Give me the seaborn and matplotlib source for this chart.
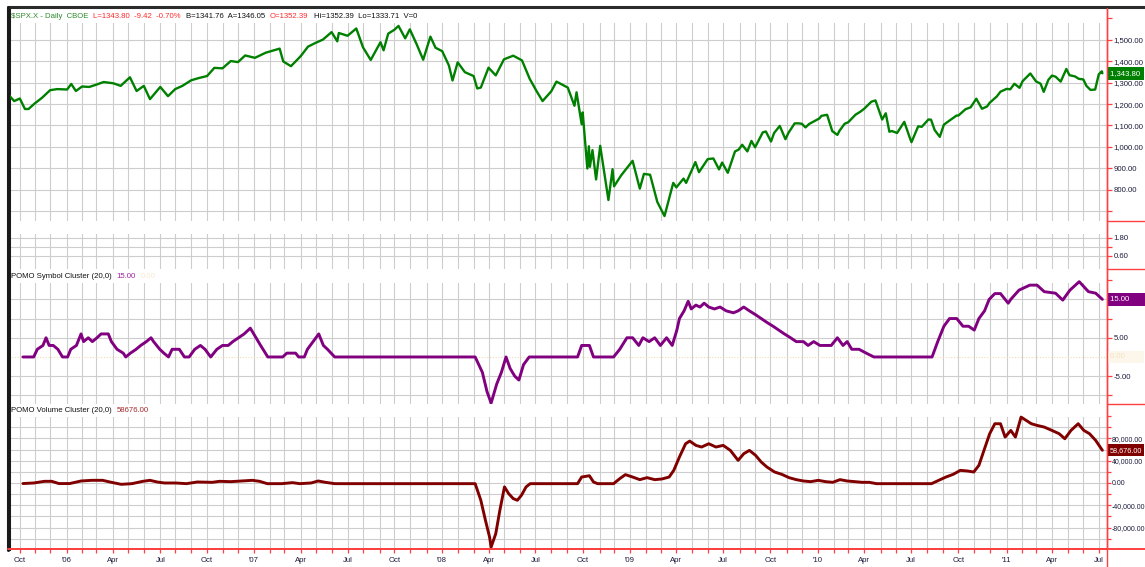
import matplotlib
matplotlib.use("Agg")
import matplotlib.pyplot as plt
import seaborn as sns
import pandas as pd
import numpy as np
from matplotlib.transforms import blended_transform_factory
from matplotlib.lines import Line2D
from matplotlib.patches import Rectangle

# ---------------- data ----------------
price_dates = [
    "2005-09-12", "2005-09-22", "2005-10-03", "2005-10-13", "2005-10-20", "2005-11-01", "2005-11-15",
    "2005-12-01", "2005-12-15", "2006-01-03", "2006-01-11", "2006-01-20", "2006-02-01", "2006-02-15",
    "2006-03-01", "2006-03-15", "2006-04-03", "2006-04-17", "2006-05-05", "2006-05-18", "2006-06-01",
    "2006-06-13", "2006-07-03", "2006-07-18", "2006-08-01", "2006-08-15", "2006-09-01", "2006-09-15",
    "2006-10-02", "2006-10-16", "2006-11-01", "2006-11-17", "2006-12-01", "2006-12-15", "2007-01-03",
    "2007-01-24", "2007-02-20", "2007-02-27", "2007-03-14", "2007-04-02", "2007-04-16", "2007-05-01",
    "2007-05-15", "2007-06-01", "2007-06-12", "2007-06-15", "2007-07-02", "2007-07-19", "2007-08-01",
    "2007-08-16", "2007-09-04", "2007-09-10", "2007-09-19", "2007-10-01", "2007-10-09", "2007-10-22",
    "2007-10-31", "2007-11-13", "2007-11-26", "2007-12-10", "2007-12-20", "2008-01-02", "2008-01-15",
    "2008-01-22", "2008-02-01", "2008-02-15", "2008-03-03", "2008-03-10", "2008-03-17", "2008-04-01",
    "2008-04-15", "2008-05-01", "2008-05-19", "2008-06-05", "2008-06-20", "2008-07-03", "2008-07-15",
    "2008-08-01", "2008-08-11", "2008-09-02", "2008-09-15", "2008-09-19", "2008-09-29", "2008-10-01",
    "2008-10-10", "2008-10-13", "2008-10-15", "2008-10-20", "2008-10-27", "2008-11-04", "2008-11-20",
    "2008-11-28", "2008-12-01", "2008-12-15", "2009-01-06", "2009-01-20", "2009-01-28", "2009-02-09",
    "2009-02-23", "2009-03-09", "2009-03-26", "2009-04-01", "2009-04-15", "2009-04-20", "2009-05-04",
    "2009-05-08", "2009-05-15", "2009-06-01", "2009-06-12", "2009-06-23", "2009-06-29", "2009-07-10",
    "2009-07-24", "2009-07-31", "2009-08-07", "2009-08-17", "2009-08-25", "2009-09-01", "2009-09-16",
    "2009-09-22", "2009-10-02", "2009-10-08", "2009-10-19", "2009-10-30", "2009-11-05", "2009-11-17",
    "2009-11-25", "2009-12-01", "2009-12-08", "2009-12-15", "2010-01-04", "2010-01-08", "2010-01-19",
    "2010-01-29", "2010-02-08", "2010-02-12", "2010-02-22", "2010-03-01", "2010-03-15", "2010-03-25",
    "2010-04-01", "2010-04-15", "2010-04-23", "2010-05-06", "2010-05-13", "2010-05-20", "2010-05-25",
    "2010-06-04", "2010-06-11", "2010-06-18", "2010-06-29", "2010-07-02", "2010-07-15", "2010-07-22",
    "2010-08-04", "2010-08-09", "2010-08-16", "2010-08-26", "2010-09-03", "2010-09-15", "2010-09-28",
    "2010-10-01", "2010-10-15", "2010-10-25", "2010-11-05", "2010-11-16", "2010-11-26", "2010-12-01",
    "2010-12-15", "2010-12-22", "2011-01-03", "2011-01-10", "2011-01-18", "2011-01-28", "2011-02-03",
    "2011-02-18", "2011-02-25", "2011-03-01", "2011-03-10", "2011-03-16", "2011-03-25", "2011-04-01",
    "2011-04-08", "2011-04-18", "2011-04-29", "2011-05-05", "2011-05-16", "2011-05-23", "2011-06-01",
    "2011-06-07", "2011-06-15", "2011-06-24", "2011-07-01", "2011-07-07", "2011-07-08",
]
price_values = [
    1241, 1214, 1226, 1177, 1177, 1203, 1229,
    1265, 1270, 1268, 1294, 1261, 1282, 1280,
    1291, 1303, 1297, 1285, 1325, 1261, 1285,
    1223, 1280, 1237, 1270, 1285, 1311, 1321,
    1331, 1369, 1367, 1401, 1396, 1427, 1416,
    1440, 1459, 1399, 1377, 1424, 1468, 1486,
    1501, 1536, 1493, 1532, 1519, 1553, 1465,
    1406, 1489, 1451, 1529, 1547, 1565, 1507,
    1549, 1481, 1407, 1515, 1463, 1447, 1380,
    1310, 1395, 1349, 1331, 1273, 1277, 1370,
    1334, 1409, 1426, 1404, 1318, 1262, 1214,
    1260, 1305, 1277, 1192, 1255, 1106, 1161,
    899, 1003, 907, 985, 848, 1005, 752,
    896, 816, 868, 935, 805, 874, 870,
    743, 677, 832, 811, 852, 832, 907,
    929, 882, 943, 946, 895, 927, 879,
    979, 987, 1010, 979, 1028, 998, 1068,
    1072, 1025, 1065, 1098, 1036, 1066, 1110,
    1110, 1108, 1091, 1107, 1133, 1145, 1150,
    1074, 1056, 1075, 1108, 1115, 1150, 1165,
    1178, 1211, 1217, 1128, 1157, 1071, 1074,
    1065, 1091, 1117, 1041, 1022, 1096, 1094,
    1128, 1127, 1079, 1047, 1104, 1125, 1147,
    1146, 1176, 1185, 1225, 1178, 1189, 1206,
    1236, 1258, 1271, 1269, 1295, 1276, 1307,
    1343, 1320, 1306, 1295, 1257, 1313, 1333,
    1328, 1305, 1364, 1335, 1329, 1318, 1315,
    1285, 1266, 1268, 1339, 1353, 1343.80,
]

symbol_dates = [
    "2005-10-09", "2005-10-30", "2005-11-06", "2005-11-17", "2005-11-23", "2005-11-29", "2005-12-07",
    "2005-12-16", "2005-12-25", "2006-01-04", "2006-01-10", "2006-01-21", "2006-01-30", "2006-02-04",
    "2006-02-13", "2006-02-21", "2006-03-02", "2006-03-10", "2006-03-24", "2006-03-30", "2006-04-10",
    "2006-04-22", "2006-04-27", "2006-05-06", "2006-05-17", "2006-05-26", "2006-06-06", "2006-06-15",
    "2006-06-20", "2006-07-02", "2006-07-10", "2006-07-19", "2006-07-26", "2006-08-09", "2006-08-19",
    "2006-08-28", "2006-09-08", "2006-09-19", "2006-09-28", "2006-10-09", "2006-10-21", "2006-11-01",
    "2006-11-12", "2006-11-21", "2006-12-02", "2006-12-13", "2006-12-25", "2007-01-05", "2007-01-14",
    "2007-01-28", "2007-02-26", "2007-03-06", "2007-03-23", "2007-03-29", "2007-04-09", "2007-04-15",
    "2007-04-26", "2007-05-07", "2007-05-16", "2007-05-24", "2007-06-07", "2008-03-06", "2008-03-20",
    "2008-03-29", "2008-04-06", "2008-04-17", "2008-04-26", "2008-05-05", "2008-05-13", "2008-05-22",
    "2008-05-30", "2008-06-08", "2008-06-19", "2008-09-21", "2008-09-29", "2008-10-14", "2008-10-22",
    "2008-11-30", "2008-12-12", "2008-12-26", "2009-01-06", "2009-01-18", "2009-01-26", "2009-02-07",
    "2009-02-18", "2009-03-01", "2009-03-13", "2009-03-24", "2009-04-02", "2009-04-07", "2009-04-16",
    "2009-04-24", "2009-04-30", "2009-05-09", "2009-05-17", "2009-05-25", "2009-06-03", "2009-06-14",
    "2009-06-25", "2009-07-07", "2009-07-21", "2009-07-30", "2009-08-10", "2009-08-21", "2009-09-02",
    "2009-09-13", "2009-09-24", "2009-10-06", "2009-10-17", "2009-10-28", "2009-11-09", "2009-11-20",
    "2009-12-04", "2009-12-13", "2009-12-24", "2010-01-05", "2010-01-16", "2010-01-27", "2010-02-08",
    "2010-02-19", "2010-02-27", "2010-03-08", "2010-03-22", "2010-04-05", "2010-04-20", "2010-08-11",
    "2010-08-22", "2010-09-03", "2010-09-14", "2010-09-28", "2010-10-10", "2010-10-21", "2010-11-01",
    "2010-11-10", "2010-11-21", "2010-11-30", "2010-12-11", "2010-12-22", "2011-01-06", "2011-01-11",
    "2011-01-27", "2011-02-17", "2011-03-03", "2011-03-17", "2011-04-08", "2011-04-22", "2011-05-06",
    "2011-05-24", "2011-06-11", "2011-06-25", "2011-07-08",
]
symbol_values = [
    0, 0, 2, 3, 5, 3, 3,
    2, 0, 0, 2, 3, 6, 4,
    5, 4, 5, 6, 6, 4, 2,
    1, 0, 1, 2, 3, 4, 5,
    4, 2, 1, 0, 2, 2, 0,
    0, 2, 3, 2, 0, 2, 3,
    3, 4, 5, 6, 7.5, 5, 3,
    0, 0, 1, 1, 0, 0, 2,
    4, 6, 3, 2, 0, 0, -4,
    -9, -12, -7, -4, 0, -3, -5,
    -6, -2, 0, 0, 3, 3, 0,
    0, 2, 5, 5, 3, 5, 4,
    5, 3, 5, 3, 7, 10, 12,
    14.5, 12.5, 13.5, 13, 14, 13, 12.5,
    13, 12, 11.5, 12, 13, 12, 11,
    10, 9, 8, 7, 6, 5, 4,
    4, 3, 4, 3, 3, 3, 5,
    3, 4, 2, 2, 1, 0, 0,
    4, 8, 10, 10, 8, 8, 7,
    10, 12, 15, 16.5, 16.5, 14, 15,
    17.4, 18.7, 18.7, 17, 16.6, 14.8, 17.4,
    19.6, 17, 16.6, 15,
]

volume_dates = [
    "2005-10-09", "2005-10-30", "2005-11-20", "2005-12-04", "2005-12-18", "2006-01-08", "2006-01-30",
    "2006-02-20", "2006-03-13", "2006-03-27", "2006-04-18", "2006-05-09", "2006-05-30", "2006-06-13",
    "2006-06-27", "2006-07-11", "2006-08-02", "2006-08-23", "2006-09-13", "2006-10-12", "2006-10-26",
    "2006-11-17", "2006-12-08", "2006-12-29", "2007-01-12", "2007-01-27", "2007-02-24", "2007-03-17",
    "2007-03-31", "2007-04-22", "2007-05-06", "2007-05-20", "2007-06-07", "2008-03-06", "2008-03-17",
    "2008-03-26", "2008-04-03", "2008-04-06", "2008-04-15", "2008-04-23", "2008-05-02", "2008-05-10",
    "2008-05-19", "2008-05-27", "2008-06-04", "2008-06-13", "2008-06-21", "2008-09-21", "2008-09-29",
    "2008-10-14", "2008-10-22", "2008-10-30", "2008-11-30", "2008-12-12", "2008-12-23", "2009-01-06",
    "2009-01-20", "2009-02-03", "2009-02-18", "2009-03-04", "2009-03-18", "2009-03-27", "2009-04-07",
    "2009-04-19", "2009-04-27", "2009-05-09", "2009-05-20", "2009-06-03", "2009-06-17", "2009-07-01",
    "2009-07-15", "2009-07-30", "2009-08-10", "2009-08-21", "2009-09-02", "2009-09-13", "2009-09-24",
    "2009-10-09", "2009-10-23", "2009-11-06", "2009-11-20", "2009-12-04", "2009-12-18", "2010-01-02",
    "2010-01-16", "2010-01-30", "2010-02-13", "2010-02-27", "2010-03-14", "2010-03-28", "2010-04-11",
    "2010-04-25", "2010-08-10", "2010-08-24", "2010-09-07", "2010-09-21", "2010-10-05", "2010-10-19",
    "2010-10-31", "2010-11-10", "2010-11-21", "2010-12-01", "2010-12-11", "2010-12-22", "2010-12-31",
    "2011-01-11", "2011-01-20", "2011-01-31", "2011-02-10", "2011-02-20", "2011-03-03", "2011-03-17",
    "2011-04-01", "2011-04-15", "2011-04-26", "2011-05-08", "2011-05-22", "2011-06-02", "2011-06-13",
    "2011-06-25", "2011-07-08",
]
volume_values = [
    -1000, 0, 3000, 3000, -1000, -1000, 3600,
    4800, 4800, 1800, -2400, -1200, 3000, 4800,
    1800, 0, 0, -1200, 1800, 1200, 3000,
    2400, 3600, 4800, 3000, -1200, -1200, 600,
    -1200, 0, 3600, 1200, -1200, -1200, -31000,
    -67000, -97000, -115000, -91000, -49000, -7000, -19000,
    -28000, -31000, -22000, -7000, -1200, -1200, 10700,
    13000, 1800, -1200, -1200, 7800, 15000, 10700,
    6000, 9600, 6000, 7200, 10700, 22700, 46600,
    70400, 75200, 67500, 64500, 70400, 64500, 67500,
    58500, 40600, 52500, 58500, 49600, 37600, 28700,
    19700, 15500, 9600, 6000, 3600, 2400, 4800,
    2400, 1200, 6000, 3600, 2400, 1200, 1200,
    -1200, -1200, 4800, 10700, 15500, 22700, 21500,
    19700, 31600, 61500, 88400, 106300, 106300, 82400,
    94300, 82400, 118200, 112200, 106300, 103300, 100300,
    94300, 88400, 79400, 94300, 106300, 94300, 88400,
    76400, 58676,
]

price_ticks = [700, 800, 900, 1000, 1100, 1200, 1300, 1400, 1500, 1600]
price_labels = [800, 900, 1000, 1100, 1200, 1300, 1400, 1500]
blank_ticks = [0.6, 1.2, 1.8]
blank_labels = [0.6, 1.8]
symbol_ticks = [-10, -5, 0, 5, 10, 15, 20]
symbol_labels = [-5, 5]
volume_ticks = [-100000, -80000, -60000, -40000, -20000, 0, 20000, 40000, 60000, 80000, 100000, 120000]
volume_labels = [-80000, -40000, 0, 40000, 80000]
month_names = {4: "Apr", 7: "Jul", 10: "Oct"}

title_price = [("\\$SPX.X - Daily  CBOE", "#2e8b2e"), ("L=1343.80  -9.42  -0.70%", "#ff2a2a"),
               ("B=1341.76  A=1346.05", "#111111"), ("O=1352.39", "#ff2a2a"),
               ("Hi=1352.39  Lo=1333.71  V=0", "#111111")]
title_symbol = [("POMO Symbol Cluster (20,0)", "#111111"), ("15.00", "#a020a0"), ("0.00", "#f6ead2")]
title_volume = [("POMO Volume Cluster (20,0)", "#111111"), ("58676.00", "#a52a2a")]

# ---------------- style ----------------
sns.set_theme(style="white")
plt.rcParams["font.family"] = ["Liberation Sans", "DejaVu Sans"]
FS = 5.6
LABEL_C = "#1c1c3c"
GRID_C = "#cdcdcd"
RED = "#ff4040"

W, H = 1145, 567
fig = plt.figure(figsize=(W / 100, H / 100), dpi=100)
fig.patch.set_facecolor("white")

XL, XR = 9, 1107


def rect(top, bottom):
    return [XL / W, 1 - bottom / H, (XR - XL) / W, (bottom - top) / H]


# panel boundaries (px from top) and height of the blank title strip
panels = [(9, 221, 14), (221, 269, 13), (269, 404, 14), (404, 549, 13)]
ax_p = fig.add_axes(rect(9, 221))
ax_b = fig.add_axes(rect(221, 269))
ax_s = fig.add_axes(rect(269, 404))
ax_v = fig.add_axes(rect(404, 549))
axes = [ax_p, ax_b, ax_s, ax_v]

xmin, xmax = pd.Timestamp("2005-09-12"), pd.Timestamp("2011-07-17")
months = pd.date_range("2005-10-01", "2011-07-31", freq="BMS")

df_p = pd.DataFrame({"date": pd.to_datetime(price_dates), "v": price_values})
df_s = pd.DataFrame({"date": pd.to_datetime(symbol_dates), "v": symbol_values})
df_v = pd.DataFrame({"date": pd.to_datetime(volume_dates), "v": volume_values})

sns.lineplot(data=df_p, x="date", y="v", ax=ax_p, color="#008000", linewidth=1.7, zorder=3)
sns.lineplot(data=df_s, x="date", y="v", ax=ax_s, color="#800080", linewidth=2.1, zorder=3)
sns.lineplot(data=df_v, x="date", y="v", ax=ax_v, color="#800000", linewidth=2.1, zorder=3)

ax_p.set_ylim(654, 1644)
ax_b.set_ylim(-0.27, 2.93)
ax_s.set_ylim(-12.24, 22.9)
ax_v.set_ylim(-118400, 141700)


def fmt(v):
    return "{:,.2f}".format(v)


for ax, ticks, labs, (top, bot, strip) in zip(
        axes,
        [price_ticks, blank_ticks, symbol_ticks, volume_ticks],
        [price_labels, blank_labels, symbol_labels, volume_labels],
        panels):
    ax.set_facecolor("white")
    ax.set_xlim(xmin, xmax)
    ax.set_xticks(months)
    ax.set_xlabel("")
    ax.set_ylabel("")
    ax.yaxis.tick_right()
    ax.set_yticks(ticks)
    ax.set_yticklabels([fmt(t) if t in labs else "" for t in ticks])
    ax.tick_params(axis="y", colors=RED, labelcolor=LABEL_C, labelsize=FS, length=3.5, width=0.9, pad=1.0,
                   right=True, left=False)
    ax.grid(True, color=GRID_C, linewidth=0.8)
    ax.set_axisbelow(True)
    for s in ["top", "bottom"]:
        ax.spines[s].set_visible(False)
    ax.spines["right"].set_color(RED)
    ax.spines["right"].set_linewidth(1.0)
    ax.spines["left"].set_color("#1a1a1a")
    ax.spines["left"].set_linewidth(2.2)
    if ax is not ax_v:
        ax.tick_params(axis="x", bottom=False, labelbottom=False)
    # blank title strip at the top of each panel (no grid there)
    frac = strip / (bot - top)
    ax.add_patch(Rectangle((0, 1 - frac), 1, frac, transform=ax.transAxes, facecolor="white",
                           edgecolor="none", zorder=1))

ax_v.tick_params(axis="y", labelsize=5.0, pad=0.6, length=3.0)

# symbol zero line dotted beige
for gl, t in zip(ax_s.get_ygridlines(), symbol_ticks):
    if t == 0:
        gl.set_color("#f0dcb8")
        gl.set_linestyle((0, (1, 1.5)))

# x axis of bottom panel
xt_labels = []
for m in months:
    if m.month == 1:
        xt_labels.append("'%02d" % (m.year % 100))
    else:
        xt_labels.append(month_names.get(m.month, ""))
ax_v.set_xticklabels(xt_labels)
ax_v.tick_params(axis="x", colors=RED, labelcolor=LABEL_C, labelsize=FS, length=3, width=0.9, pad=3,
                 bottom=True)
ax_v.spines["bottom"].set_visible(True)
ax_v.spines["bottom"].set_color(RED)
ax_v.spines["bottom"].set_linewidth(1.4)


# value boxes on the right axis
def value_box(ax, y, text, fc, tc="white", size=FS):
    tr = blended_transform_factory(ax.transAxes, ax.transData)
    ax.annotate(text, xy=(1.0, y), xycoords=tr, xytext=(1.8, 0), textcoords="offset points",
                ha="left", va="center", fontsize=size, color=tc,
                bbox=dict(boxstyle="square,pad=0.35", fc=fc, ec="none"), annotation_clip=False)


value_box(ax_p, price_values[-1], fmt(price_values[-1]) + " ", "#008000")
value_box(ax_s, symbol_values[-1], fmt(symbol_values[-1]) + "       ", "#800080")
value_box(ax_s, 0, "0.00        ", "#fdf6ea", "#f2e2c4")
value_box(ax_v, volume_values[-1], fmt(volume_values[-1]), "#800000", size=5.2)


# frame lines in figure coordinates
def fline(x0, x1, y0, y1, color, lw):
    fig.add_artist(Line2D([x0 / W, x1 / W], [1 - y0 / H, 1 - y1 / H], color=color, linewidth=lw,
                          transform=fig.transFigure))


fline(8, W, 7, 7, "#2b2b2b", 2.2)
fline(8, 8, 7, 550, "#1a1a1a", 2.2)
fline(XR, XR, 8, H, RED, 1.0)
for yb in (221, 269, 404):
    fline(XR, W, yb, yb, RED, 1.0)
fline(8, W, 549, 549, RED, 1.4)

# titles with coloured parts
fig.canvas.draw()
renderer = fig.canvas.get_renderer()


def seq_title(y_px, parts, x_px=11, gap=5):
    x = x_px
    for s, c in parts:
        t = fig.text(x / W, 1 - y_px / H, s, color=c, fontsize=FS, ha="left", va="center")
        bb = t.get_window_extent(renderer)
        x += bb.width + gap


seq_title(16, title_price)
seq_title(276, title_symbol)
seq_title(411, title_volume)

fig.savefig("out.png", dpi=100, facecolor="white")
